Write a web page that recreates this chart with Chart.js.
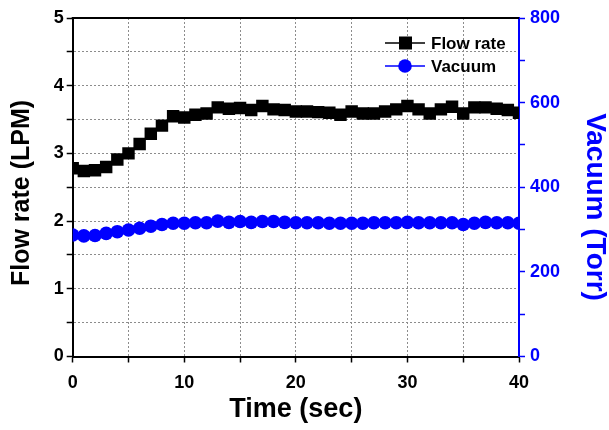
<!DOCTYPE html>
<html>
<head>
<meta charset="utf-8">
<title>Flow rate and vacuum</title>
<script src="https://cdn.jsdelivr.net/npm/chart.js"></script>
<style>
  html, body { margin: 0; padding: 0; background: #fff; overflow: hidden; }
  #chartContainer { position: relative; width: 609px; height: 430px; }
</style>
</head>
<body>
<div id="chartContainer"><canvas id="flowChart" width="609" height="430"></canvas></div>
<script>
  // time axis (sec), one sample per second
  const times = [0, 1, 2, 3, 4, 5, 6, 7, 8, 9, 10, 11, 12, 13, 14, 15, 16, 17, 18, 19, 20,
    21, 22, 23, 24, 25, 26, 27, 28, 29, 30, 31, 32, 33, 34, 35, 36, 37, 38, 39, 40];

  // flow rate (LPM)
  const flowRate = [2.78, 2.74, 2.75, 2.80, 2.91, 3.00, 3.14, 3.29, 3.41, 3.55, 3.53,
    3.57, 3.59, 3.68, 3.66, 3.67, 3.64, 3.70, 3.65, 3.64, 3.62,
    3.62, 3.61, 3.60, 3.57, 3.62, 3.59, 3.59, 3.62, 3.65, 3.70,
    3.65, 3.59, 3.65, 3.69, 3.59, 3.68, 3.68, 3.66, 3.64, 3.60];

  // vacuum (Torr)
  const vacuum = [287, 285, 286, 291, 295, 299, 303, 308, 312, 315, 315,
    316, 316, 320, 317, 319, 317, 319, 319, 317, 316,
    316, 316, 315, 315, 315, 315, 316, 316, 316, 317,
    316, 316, 316, 316, 312, 315, 317, 316, 316, 315];

  const flowTicks = [0, 1, 2, 3, 4, 5];
  const vacuumTicks = [0, 200, 400, 600, 800];
  const timeTicks = [0, 10, 20, 30, 40];

  const BLUE = '#0000ff';
  const FONT = "'Liberation Sans', Arial, sans-serif";

  function toPoints(xs, ys) {
    return xs.map((x, i) => ({ x: x, y: ys[i] }));
  }

  // dotted grey grid inside the frame, solid tick marks outside
  const gridStyle = {
    color: '#8c8c8c',
    lineWidth: 1,
    tickBorderDash: [],
    tickColor: '#000',
    tickLength: 6,
    tickWidth: 1.5
  };
  const frameBorder = { color: '#000', width: 2, dash: [2, 2] };

  function drawVerticalText(ctx, text, x, y, angle, font, color) {
    ctx.save();
    ctx.translate(x, y);
    ctx.rotate(angle);
    ctx.font = font;
    ctx.fillStyle = color;
    ctx.textAlign = 'center';
    ctx.textBaseline = 'middle';
    ctx.fillText(text, 0, 0);
    ctx.restore();
  }

  // top frame line, y-axis titles and the in-plot legend
  const framePlugin = {
    id: 'frameAndLegend',
    afterDraw(chart) {
      const { ctx, chartArea } = chart;
      ctx.save();
      ctx.strokeStyle = '#000';
      ctx.lineWidth = 2;
      ctx.beginPath();
      ctx.moveTo(chartArea.left - 1, chartArea.top);
      ctx.lineTo(chartArea.right, chartArea.top);
      ctx.stroke();

      drawVerticalText(ctx, 'Flow rate (LPM)', 22, 193, -Math.PI / 2, 'bold 25px ' + FONT, '#000');
      drawVerticalText(ctx, 'Vacuum (Torr)', 595, 207, Math.PI / 2, 'bold 28px ' + FONT, BLUE);

      const rows = [
        { label: 'Flow rate', color: '#000', style: 'rect', y: chartArea.top + 25 },
        { label: 'Vacuum', color: BLUE, style: 'circle', y: chartArea.top + 48 }
      ];
      const x0 = 385, x1 = 425;
      ctx.font = 'bold 17px ' + FONT;
      ctx.textBaseline = 'middle';
      ctx.textAlign = 'left';
      rows.forEach(r => {
        ctx.strokeStyle = r.color;
        ctx.lineWidth = 1.5;
        ctx.beginPath();
        ctx.moveTo(x0, r.y);
        ctx.lineTo(x1, r.y);
        ctx.stroke();
        ctx.fillStyle = r.color;
        if (r.style === 'rect') {
          ctx.fillRect(399, r.y - 6.5, 13, 13);
        } else {
          ctx.beginPath();
          ctx.arc(405, r.y, 6.8, 0, Math.PI * 2);
          ctx.fill();
        }
        ctx.fillStyle = '#000';
        ctx.fillText(r.label, 431, r.y + 1);
      });
      ctx.restore();
    }
  };

  function renderChart() {
    const ctx = document.getElementById('flowChart').getContext('2d');
    new Chart(ctx, {
      type: 'line',
      data: {
        datasets: [{
          label: 'Flow rate',
          data: toPoints(times, flowRate),
          yAxisID: 'y',
          borderColor: '#000',
          backgroundColor: '#000',
          borderWidth: 2,
          pointStyle: 'rect',
          pointRadius: 8.8,
          pointBorderWidth: 0,
          pointBackgroundColor: '#000'
        }, {
          label: 'Vacuum',
          data: toPoints(times, vacuum),
          yAxisID: 'y1',
          borderColor: BLUE,
          backgroundColor: BLUE,
          borderWidth: 2,
          pointStyle: 'circle',
          pointRadius: 6.8,
          pointBorderWidth: 0,
          pointBackgroundColor: BLUE
        }]
      },
      options: {
        responsive: false,
        maintainAspectRatio: false,
        animation: false,
        layout: { padding: { top: 18, left: 0, right: 0, bottom: 4 } },
        plugins: {
          legend: { display: false },
          tooltip: { enabled: false }
        },
        scales: {
          x: {
            type: 'linear',
            min: 0,
            max: 40,
            grid: gridStyle,
            border: frameBorder,
            ticks: {
              stepSize: 5,
              color: '#000',
              padding: 10,
              maxRotation: 0,
              font: { family: FONT, size: 18, weight: 'bold' },
              callback: v => timeTicks.includes(v) ? String(v) : ''
            },
            title: {
              display: true,
              text: 'Time (sec)',
              color: '#000',
              padding: 0,
              font: { family: FONT, size: 27, weight: 'bold' }
            },
            afterFit: scale => { scale.height = 69.5; }
          },
          y: {
            position: 'left',
            min: 0,
            max: 5,
            grid: gridStyle,
            border: frameBorder,
            ticks: {
              stepSize: 0.5,
              color: '#000',
              padding: 3,
              font: { family: FONT, size: 18, weight: 'bold' },
              callback: v => flowTicks.includes(v) ? String(v) : ''
            },
            afterFit: scale => { scale.width = 72.7; }
          },
          y1: {
            position: 'right',
            min: 0,
            max: 800,
            grid: {
              drawOnChartArea: false,
              tickLength: 6,
              tickColor: BLUE,
              tickWidth: 1.5
            },
            border: { color: BLUE, width: 2 },
            ticks: {
              stepSize: 100,
              color: BLUE,
              padding: 5,
              font: { family: FONT, size: 18, weight: 'bold' },
              callback: v => vacuumTicks.includes(v) ? String(v) : ''
            },
            afterFit: scale => { scale.width = 90; }
          }
        }
      },
      plugins: [framePlugin]
    });
  }

  renderChart();
</script>
</body>
</html>
